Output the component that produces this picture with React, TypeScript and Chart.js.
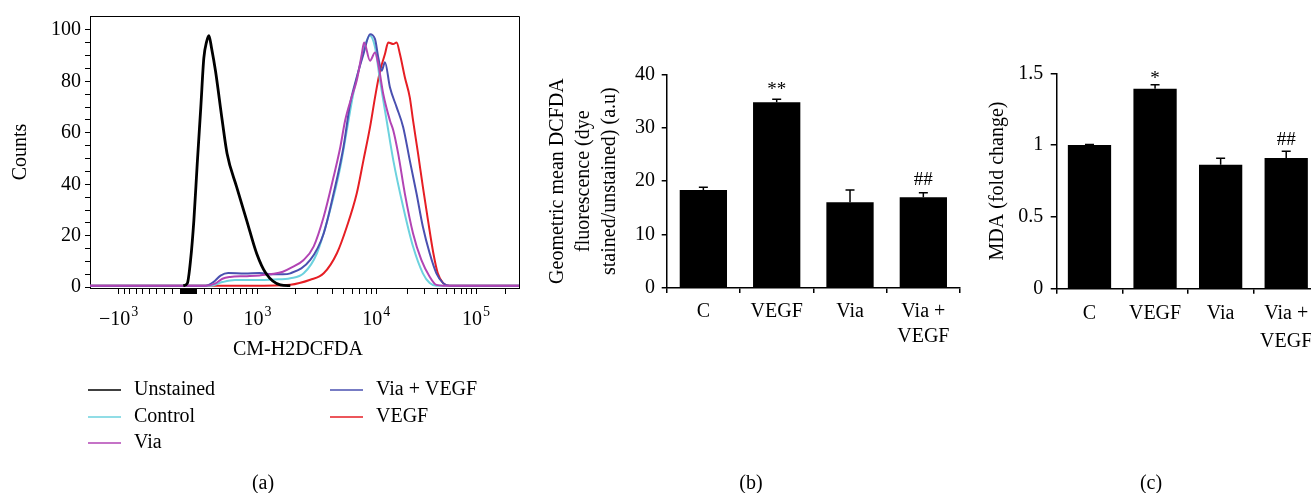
import React, { useEffect, useRef } from 'react';
import { Chart, registerables, Scale } from 'chart.js';

Chart.register(...registerables);

const FONT = '"Liberation Serif", "Times New Roman", serif';
Chart.defaults.font.family = FONT;
Chart.defaults.font.size = 20;
Chart.defaults.color = '#000';

// ---------------- Panel (a): flow cytometry histograms ----------------
const A_LABELS = ['Unstained', 'Control', 'Via', 'Via + VEGF', 'VEGF'];
const A_COLORS = ['#000000', '#6cd2de', '#b244b4', '#4a50b0', '#e61e24'];

const UNSTAINED_X = [-60, -10, 31, 72, 114, 159, 197, 233, 262, 296, 348, 437, 505, 645, 805, 985, 1170, 1520, 1820];
const UNSTAINED_Y = [0.6, 1.5, 10.6, 26, 48, 70, 89, 95.5, 97.8, 93, 84, 65, 52, 39, 26, 13, 5.4, 0.9, 0.6];

const CONTROL_X = [-1690, 285, 441, 620, 955, 1355, 1820, 2320, 2970, 3830, 4690, 5540, 6110, 7060, 8120, 8720, 9720, 10850, 12550, 14560, 18200, 22800, 28600, 33500, 39200, 281700];
const CONTROL_Y = [0.6, 0.6, 2.0, 2.8, 2.8, 3.0, 3.5, 5.4, 13.2, 30, 46.7, 64.8, 75.1, 86.7, 95.8, 97.7, 93.2, 80.3, 64.8, 49.3, 31.2, 15.8, 5.4, 1.6, 0.6, 0.6];

const VIA_X = [-1690, 220, 348, 441, 550, 775, 1040, 1355, 1590, 1820, 2320, 2790, 3380, 4100, 4690, 5170, 5900, 6570, 7310, 7680, 8720, 9720, 10430, 11640, 13500, 14560, 16250, 18900, 22800, 27600, 33500, 39200, 45900, 281700];
const VIA_Y = [0.6, 0.6, 1.5, 3.3, 4.0, 4.3, 4.6, 5.2, 6.0, 7.4, 10.6, 15.8, 27.4, 42.9, 54.5, 64.8, 73.8, 80.3, 90.6, 95.1, 88, 91.2, 86.7, 75.1, 64.8, 60.9, 51.9, 36.4, 20.9, 10.6, 4.1, 0.9, 0.6, 0.6];

const VIA_VEGF_X = [-1690, 220, 320, 415, 522, 775, 1040, 1355, 1590, 1820, 2620, 3380, 4100, 5000, 5720, 6570, 7570, 8720, 9720, 10430, 11230, 12090, 13500, 15680, 18200, 21150, 24700, 28600, 33500, 39200, 45900, 53500, 281700];
const VIA_VEGF_Y = [0.6, 0.6, 2.0, 4.5, 5.5, 5.3, 5.5, 5.0, 5.0, 5.4, 10.6, 20.9, 36.4, 54.5, 71.2, 81.6, 90.6, 98.3, 96.4, 89.3, 84.1, 87.4, 77.7, 70, 62.2, 49.3, 36.4, 23.5, 13.2, 5.4, 1.6, 0.6, 0.6];

const VEGF_X = [-1690, 900, 1820, 2620, 3380, 4380, 5350, 6570, 7570, 8720, 9720, 10850, 12090, 13000, 14560, 15680, 16900, 18900, 21150, 22800, 25600, 28600, 32200, 36500, 40500, 45900, 53500, 281700];
const VEGF_Y = [0.6, 0.6, 1.0, 2.9, 5.4, 13.2, 23.5, 36.4, 49.3, 62.2, 73.8, 84.1, 90.6, 95.1, 94.5, 95.1, 90.6, 81.6, 73.8, 64.8, 51.9, 39, 26.1, 13.2, 5.4, 1.6, 0.6, 0.6];

const A_SERIES_X = [UNSTAINED_X, CONTROL_X, VIA_X, VIA_VEGF_X, VEGF_X];
const A_SERIES_Y = [UNSTAINED_Y, CONTROL_Y, VIA_Y, VIA_VEGF_Y, VEGF_Y];
const A_ORDER = [0, 3, 1, 2, 4];

const A_X_TICKS = [
  -1000, -900, -800, -700, -600, -500, -400, -300, -200, -100,
  -90, -80, -70, -60, -50, -40, -30, -20, -10, 0, 10, 20, 30, 40, 50, 60, 70, 80, 90,
  100, 200, 300, 400, 500, 600, 700, 800, 900, 1000,
  2000, 3000, 4000, 5000, 6000, 7000, 8000, 9000, 10000,
  20000, 30000, 40000, 50000, 60000, 70000, 80000, 90000, 100000, 200000,
];
const A_X_MAJOR = [-1000, 0, 1000, 10000, 100000];
const A_X_MAJOR_BASE = ['\u221210', '0', '10', '10', '10'];
const A_X_MAJOR_EXP = ['3', '', '3', '4', '5'];
const A_Y_TICKS = [0, 5, 10, 15, 20, 25, 30, 35, 40, 45, 50, 55, 60, 65, 70, 75, 80, 85, 90, 95, 100];
const A_X_MIN = -1690;
const A_X_MAX = 281700;
const A_X_TITLE = 'CM-H2DCFDA';
const A_Y_TITLE = 'Counts';

// ---------------- Panel (b) ----------------
const B_CATS: (string | string[])[] = ['C', 'VEGF', 'Via', ['Via +', 'VEGF']];
const B_MEANS = [18.35, 34.77, 16.05, 16.98];
const B_ERRS = [0.5, 0.55, 2.3, 0.87];
const B_MARKS = ['', '**', '', '##'];
const B_Y_TICKS = [0, 10, 20, 30, 40];
const B_TITLE = ['Geometric mean DCFDA', 'fluorescence (dye', 'stained/unstained) (a.u)'];

// ---------------- Panel (c) ----------------
const C_CATS: (string | string[])[] = ['C', 'VEGF', 'Via', ['Via +', 'VEGF']];
const C_MEANS = [1.0, 1.393, 0.864, 0.91];
const C_ERRS = [0.004, 0.027, 0.044, 0.047];
const C_MARKS = ['', '*', '', '##'];
const C_Y_TICKS = [0, 0.5, 1, 1.5];
const C_TITLE = 'MDA (fold change)';

const PANEL_LETTERS = ['(a)', '(b)', '(c)'];

// ---------------- Logicle transform & scale ----------------
function makeLogicle(T: number, W: number, M: number, A: number) {
  const w = W / (M + A);
  const x2 = A / (M + A);
  const x1 = x2 + w;
  const x0 = x2 + 2 * w;
  const b = (M + A) * Math.LN10;
  const fd = (d: number) => 2 * (Math.log(d) - Math.log(b)) + w * (b + d);
  let lo = 1e-9, hi = b;
  for (let i = 0; i < 200; i++) {
    const mid = (lo + hi) / 2;
    if (fd(mid) > 0) hi = mid; else lo = mid;
  }
  const d = (lo + hi) / 2;
  const ca = Math.exp(x0 * (b + d));
  const mfa = Math.exp(b * x1) - ca / Math.exp(d * x1);
  const a = T / ((Math.exp(b) - mfa) - ca / Math.exp(d));
  const c = ca * a;
  const f = -mfa * a;
  const Spos = (x: number) => a * Math.exp(b * x) - c * Math.exp(-d * x) + f;
  const S = (x: number) => (x >= x1 ? Spos(x) : -Spos(2 * x1 - x));
  const fwd = (v: number): number => {
    if (v < 0) return 2 * x1 - fwd(-v);
    let l = x1, h = 2;
    for (let i = 0; i < 80; i++) {
      const m = (l + h) / 2;
      if (Spos(m) > v) h = m; else l = m;
    }
    return (l + h) / 2;
  };
  return { fwd, inv: S };
}
const LG = makeLogicle(262144, 1.06, 4.5, 0);

class LogicleScale extends Scale {
  static id = 'logicle';
  static defaults = {};
  _u0 = 0;
  _u1 = 1;
  determineDataLimits() {
    const { min, max } = (this as any).getMinMax(true);
    const o: any = this.options;
    this.min = typeof o.min === 'number' ? o.min : min;
    this.max = typeof o.max === 'number' ? o.max : max;
  }
  buildTicks() {
    return [];
  }
  configure() {
    super.configure();
    this._u0 = LG.fwd(this.min);
    this._u1 = LG.fwd(this.max);
  }
  getLabelForValue(v: number) {
    return String(v);
  }
  getPixelForValue(v: number) {
    return this.getPixelForDecimal((LG.fwd(v) - this._u0) / (this._u1 - this._u0));
  }
  getValueForPixel(p: number) {
    return LG.inv(this._u0 + this.getDecimalForPixel(p) * (this._u1 - this._u0));
  }
}
Chart.register(LogicleScale as any);

const H = 493;

function panelLetterPlugin(text: string, x: number) {
  return {
    id: 'panelLetter',
    afterDraw(chart: any) {
      const { ctx } = chart;
      ctx.save();
      ctx.fillStyle = '#000';
      ctx.font = `20px ${FONT}`;
      ctx.textAlign = 'center';
      ctx.textBaseline = 'middle';
      ctx.fillText(text, x, 484);
      ctx.restore();
    },
  };
}

// ---------------- Chart builders ----------------
function makeA(canvas: HTMLCanvasElement) {
  const decorPlugin = {
    id: 'decorA',
    afterDraw(chart: any) {
      const { ctx, chartArea } = chart;
      const { left, top, right, bottom } = chartArea;
      ctx.save();
      ctx.strokeStyle = '#000';
      ctx.lineWidth = 1;
      ctx.beginPath();
      ctx.moveTo(Math.round(left) + 0.5, Math.round(top) + 0.5);
      ctx.lineTo(Math.round(right) + 0.5, Math.round(top) + 0.5);
      ctx.lineTo(Math.round(right) + 0.5, Math.round(bottom) + 0.5);
      ctx.stroke();
      // x tick labels with superscripts
      const xs = chart.scales.x;
      ctx.fillStyle = '#000';
      ctx.textBaseline = 'alphabetic';
      ctx.textAlign = 'left';
      A_X_MAJOR.forEach((v, i) => {
        const px = xs.getPixelForValue(v);
        const base = A_X_MAJOR_BASE[i];
        const exp = A_X_MAJOR_EXP[i];
        ctx.font = `20px ${FONT}`;
        const bw = ctx.measureText(base).width;
        ctx.font = `14px ${FONT}`;
        const ew = exp ? ctx.measureText(exp).width + 1 : 0;
        const x0 = px - (bw + ew) / 2;
        ctx.font = `20px ${FONT}`;
        ctx.fillText(base, x0, 324.5);
        if (exp) {
          ctx.font = `14px ${FONT}`;
          ctx.fillText(exp, x0 + bw + 1, 316);
        }
      });
      // x title
      ctx.font = `20px ${FONT}`;
      ctx.textAlign = 'center';
      ctx.textBaseline = 'middle';
      ctx.fillText(A_X_TITLE, 298, 350);
      // legend (two columns)
      const colLineX = [88, 330];
      const colTextX = [134, 376];
      const rowY = [390, 417, 443];
      A_LABELS.forEach((label, i) => {
        const col = i < 3 ? 0 : 1;
        const row = i < 3 ? i : i - 3;
        ctx.strokeStyle = A_COLORS[i];
        ctx.lineWidth = 1.6;
        ctx.beginPath();
        ctx.moveTo(colLineX[col], rowY[row]);
        ctx.lineTo(colLineX[col] + 33, rowY[row]);
        ctx.stroke();
        ctx.fillStyle = '#000';
        ctx.textAlign = 'left';
        ctx.textBaseline = 'middle';
        ctx.fillText(label, colTextX[col], rowY[row]);
      });
      ctx.restore();
    },
  };
  return new Chart(canvas, {
    type: 'line',
    data: {
      datasets: A_LABELS.map((label, i) => ({
        label,
        data: A_SERIES_X[i].map((x, j) => ({ x, y: A_SERIES_Y[i][j] })),
        borderColor: A_COLORS[i],
        backgroundColor: A_COLORS[i],
        borderWidth: i === 0 ? 2.8 : 2,
        pointRadius: 0,
        cubicInterpolationMode: 'monotone',
        fill: false,
        order: A_ORDER[i],
      })),
    },
    options: {
      animation: false,
      responsive: false,
      events: [],
      layout: { padding: { top: 15, right: 20.7, bottom: 0, left: 0 } },
      plugins: { legend: { display: false }, tooltip: { enabled: false } },
      scales: {
        x: {
          type: 'logicle' as any,
          min: A_X_MIN,
          max: A_X_MAX,
          afterBuildTicks: (s: any) => {
            s.ticks = A_X_TICKS.map((v) => ({ value: v }));
          },
          afterFit: (s: any) => {
            s.height = H - 288;
          },
          ticks: { callback: () => '', autoSkip: false, maxRotation: 0 },
          grid: { display: true, drawOnChartArea: false, drawTicks: true, tickLength: 6, color: '#000', lineWidth: 1 },
          border: { display: true, color: '#000', width: 1 },
        } as any,
        y: {
          type: 'linear',
          min: -0.3,
          max: 105.4,
          afterBuildTicks: (s: any) => {
            s.ticks = A_Y_TICKS.map((v) => ({ value: v }));
          },
          afterFit: (s: any) => {
            s.width = 90;
          },
          ticks: {
            callback: (v: any) => (Number(v) % 20 === 0 ? String(v) : ''),
            autoSkip: false,
            padding: 4,
            font: { size: 20, family: FONT },
            color: '#000',
          },
          grid: { display: true, drawOnChartArea: false, drawTicks: true, tickLength: 5, color: '#000', lineWidth: 1 },
          border: { display: true, color: '#000', width: 1 },
          title: { display: true, text: A_Y_TITLE, padding: { top: 8, bottom: 0 }, font: { size: 20, family: FONT, lineHeight: 1.3 }, color: '#000' },
        },
      },
    } as any,
    plugins: [decorPlugin, panelLetterPlugin(PANEL_LETTERS[0], 263)],
  });
}

interface BarCfg {
  labels: (string | string[])[];
  values: number[];
  errs: number[];
  marks: string[];
  yMax: number;
  yTicks: number[];
  title: string | string[];
  titlePad: number;
  areaLeft: number;
  areaTop: number;
  areaBottom: number;
  rightPad: number;
  barPct: number;
  yTickLen: number;
  yTickPad: number;
  xLineHeight: number;
  starGap: number;
  hashGap: number;
  letter: string;
  letterX: number;
}

function makeBar(canvas: HTMLCanvasElement, cfg: BarCfg) {
  const errPlugin = {
    id: 'errbars',
    afterDatasetsDraw(chart: any) {
      const { ctx } = chart;
      const ys = chart.scales.y;
      const meta = chart.getDatasetMeta(0);
      ctx.save();
      ctx.strokeStyle = '#000';
      ctx.lineWidth = 1.5;
      meta.data.forEach((bar: any, i: number) => {
        const x = bar.x;
        const yTop = ys.getPixelForValue(cfg.values[i] + cfg.errs[i]);
        const yVal = ys.getPixelForValue(cfg.values[i]);
        ctx.beginPath();
        ctx.moveTo(x, yVal);
        ctx.lineTo(x, yTop);
        ctx.moveTo(x - 4.5, yTop);
        ctx.lineTo(x + 4.5, yTop);
        ctx.stroke();
        const m = cfg.marks[i];
        if (m) {
          ctx.fillStyle = '#000';
          ctx.font = `19px ${FONT}`;
          ctx.textAlign = 'center';
          ctx.textBaseline = 'alphabetic';
          const gap = m.startsWith('#') ? cfg.hashGap : cfg.starGap;
          ctx.fillText(m, x, yTop - gap);
        }
      });
      ctx.restore();
    },
  };
  return new Chart(canvas, {
    type: 'bar',
    data: {
      labels: cfg.labels,
      datasets: [
        {
          data: cfg.values,
          backgroundColor: '#000',
          borderWidth: 0,
          barPercentage: cfg.barPct,
          categoryPercentage: 1,
        },
      ],
    },
    options: {
      animation: false,
      responsive: false,
      events: [],
      layout: { padding: { top: cfg.areaTop, right: cfg.rightPad, bottom: 0, left: 0 } },
      plugins: { legend: { display: false }, tooltip: { enabled: false } },
      scales: {
        x: {
          type: 'category',
          afterFit: (s: any) => {
            s.height = H - cfg.areaBottom;
          },
          ticks: { autoSkip: false, maxRotation: 0, padding: 6, font: { size: 20, family: FONT, lineHeight: cfg.xLineHeight }, color: '#000' },
          grid: { display: true, offset: true, drawOnChartArea: false, drawTicks: true, tickLength: 5, color: '#000', lineWidth: 1.5 },
          border: { display: true, color: '#000', width: 1.5 },
        },
        y: {
          type: 'linear',
          min: 0,
          max: cfg.yMax,
          afterBuildTicks: (s: any) => {
            s.ticks = cfg.yTicks.map((v) => ({ value: v }));
          },
          afterFit: (s: any) => {
            s.width = cfg.areaLeft;
          },
          ticks: { padding: cfg.yTickPad, callback: (v: any) => String(v), font: { size: 20, family: FONT }, color: '#000' },
          grid: { display: true, drawOnChartArea: false, drawTicks: true, tickLength: cfg.yTickLen, color: '#000', lineWidth: 1.5 },
          border: { display: true, color: '#000', width: 1.5 },
          title: { display: true, text: cfg.title, padding: { top: cfg.titlePad, bottom: 0 }, font: { size: 20, family: FONT, lineHeight: 1.3 }, color: '#000' },
        },
      },
    } as any,
    plugins: [errPlugin, panelLetterPlugin(cfg.letter, cfg.letterX)],
  });
}

export default function App() {
  const refA = useRef<HTMLCanvasElement>(null);
  const refB = useRef<HTMLCanvasElement>(null);
  const refC = useRef<HTMLCanvasElement>(null);

  useEffect(() => {
    const charts: Chart[] = [];
    if (refA.current) charts.push(makeA(refA.current));
    if (refB.current)
      charts.push(
        makeBar(refB.current, {
          labels: B_CATS,
          values: B_MEANS,
          errs: B_ERRS,
          marks: B_MARKS,
          yMax: 40,
          yTicks: B_Y_TICKS,
          title: B_TITLE,
          titlePad: 5,
          areaLeft: 126.7,
          areaTop: 74.3,
          areaBottom: 288,
          rightPad: 5,
          barPct: 0.645,
          yTickLen: 5,
          yTickPad: 6.7,
          xLineHeight: 1.25,
          starGap: 4,
          hashGap: 8,
          letter: PANEL_LETTERS[1],
          letterX: 211,
        })
      );
    if (refC.current)
      charts.push(
        makeBar(refC.current, {
          labels: C_CATS,
          values: C_MEANS,
          errs: C_ERRS,
          marks: C_MARKS,
          yMax: 1.5,
          yTicks: C_Y_TICKS,
          title: C_TITLE,
          titlePad: 25,
          areaLeft: 96.7,
          areaTop: 73.3,
          areaBottom: 288.7,
          rightPad: 41,
          barPct: 0.66,
          yTickLen: 6,
          yTickPad: 7.4,
          xLineHeight: 1.4,
          starGap: 1,
          hashGap: 6,
          letter: PANEL_LETTERS[2],
          letterX: 191,
        })
      );
    return () => charts.forEach((c) => c.destroy());
  }, []);

  return (
    <div
      style={{
        position: 'fixed',
        left: 0,
        top: 0,
        width: 1311,
        height: H,
        overflow: 'hidden',
        background: '#fff',
      }}
    >
      <canvas ref={refA} width={540} height={H} style={{ position: 'absolute', left: 0, top: 0, width: 540, height: H }} />
      <canvas ref={refB} width={425} height={H} style={{ position: 'absolute', left: 540, top: 0, width: 425, height: H }} />
      <canvas ref={refC} width={400} height={H} style={{ position: 'absolute', left: 960, top: 0, width: 400, height: H }} />
    </div>
  );
}
